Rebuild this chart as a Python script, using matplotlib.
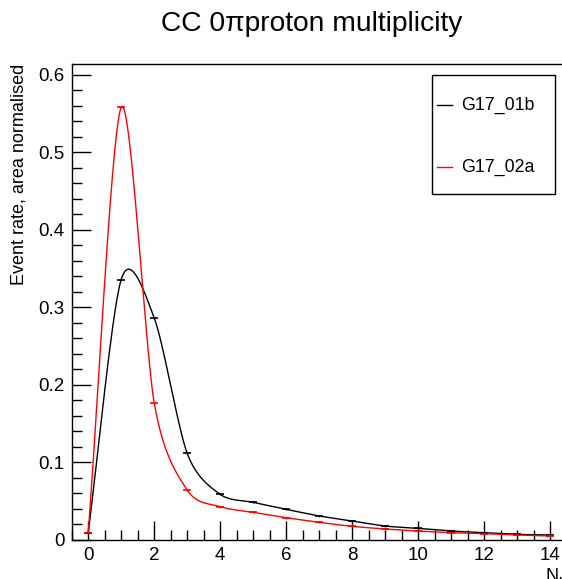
import matplotlib
matplotlib.use("Agg")
import matplotlib.pyplot as plt
from matplotlib.lines import Line2D
from matplotlib.patches import Rectangle
import numpy as np

plt.rcParams['font.family'] = ['Liberation Sans', 'DejaVu Sans']

# proton multiplicity bins
n_protons = np.arange(0, 15)

# area normalised event rates
g17_01b = [0.0094, 0.336, 0.2865, 0.1117, 0.0589, 0.0486, 0.0396, 0.031,
           0.0245, 0.018, 0.015, 0.0116, 0.0094, 0.0073, 0.0064]
g17_02a = [0.0094, 0.558, 0.177, 0.0644, 0.043, 0.0357, 0.0288, 0.0228,
           0.0176, 0.0142, 0.0116, 0.0094, 0.0082, 0.0064, 0.0052]
err = 0.0012

series = [("G17_01b", g17_01b, "black"), ("G17_02a", g17_02a, "red")]


def smooth_curve(xs, ys, sx, sy, n=30, k=0.85):
    # Cardinal spline through the points in screen-like units
    # (stands in for the ROOT "C" draw option)
    P = np.column_stack([np.asarray(xs, float) * sx, np.asarray(ys, float) * sy])
    P = np.vstack([2 * P[0] - P[1], P, 2 * P[-1] - P[-2]])
    t = np.linspace(0, 1, n)[:, None]
    h00 = 2 * t**3 - 3 * t**2 + 1
    h10 = t**3 - 2 * t**2 + t
    h01 = -2 * t**3 + 3 * t**2
    h11 = t**3 - t**2
    out = []
    for i in range(1, len(P) - 2):
        m1 = k * (P[i + 1] - P[i - 1]) / 2
        m2 = k * (P[i + 2] - P[i]) / 2
        out.append(h00 * P[i] + h10 * m1 + h01 * P[i + 1] + h11 * m2)
    c = np.vstack(out)
    return c[:, 0] / sx, c[:, 1] / sy


fig = plt.figure(figsize=(5.62, 5.79), dpi=100)
ax = fig.add_axes([71.7 / 562, 39 / 579, 495 / 562, 476 / 579])

for name, vals, col in series:
    cx, cy = smooth_curve(n_protons, vals, 33.0, 776.0)
    ax.plot(cx, cy, color=col, lw=1.0)
    ax.errorbar(n_protons, vals, yerr=err, fmt='_', color=col, ms=6,
                mew=1.2, elinewidth=1.0, capsize=0)

ax.set_xlim(-0.5, 14.5)
ax.set_ylim(0, 0.614)
ax.set_xticks(np.arange(0, 15, 2))
ax.set_xticks(np.arange(-0.5, 14.6, 0.5), minor=True)
ax.set_yticks(np.arange(0, 0.61, 0.1))
ax.set_yticklabels(["0", "0.1", "0.2", "0.3", "0.4", "0.5", "0.6"])
ax.set_yticks(np.arange(0, 0.615, 0.02), minor=True)
ax.tick_params(which='both', direction='in', labelsize=13.5, width=1)
ax.tick_params(axis='x', which='major', length=14, pad=5)
ax.tick_params(axis='x', which='minor', length=7)
ax.tick_params(axis='y', which='major', length=14, pad=5)
ax.tick_params(axis='y', which='minor', length=7)
for s in ax.spines.values():
    s.set_linewidth(1.0)

ax.set_ylabel("Event rate, area normalised", fontsize=13, loc='top', labelpad=8)
ax.set_xlabel(r"N$_\mathregular{p}$", fontsize=13, loc='right', labelpad=2)
fig.text(312 / 562, 1 - 24 / 579, "CC 0\u03c0proton multiplicity", fontsize=20.3,
         ha='center', va='center')

# ROOT-style legend box
W, H = 562, 579
fig.patches.append(Rectangle((432 / W, 1 - 194 / H), 123 / W, 119 / H,
                             transform=fig.transFigure, facecolor='white',
                             edgecolor='black', lw=1.0, zorder=5))
for k, (name, vals, col) in enumerate(series):
    yy = 1 - (105 + 62 * k) / H
    fig.lines.append(Line2D([437 / W, 452 / W], [yy, yy], color=col, lw=1.0,
                            transform=fig.transFigure, zorder=6))
    fig.text(461 / W, yy, name, fontsize=12.8, ha='left', va='center', zorder=6)

fig.savefig("out.png", dpi=100)
